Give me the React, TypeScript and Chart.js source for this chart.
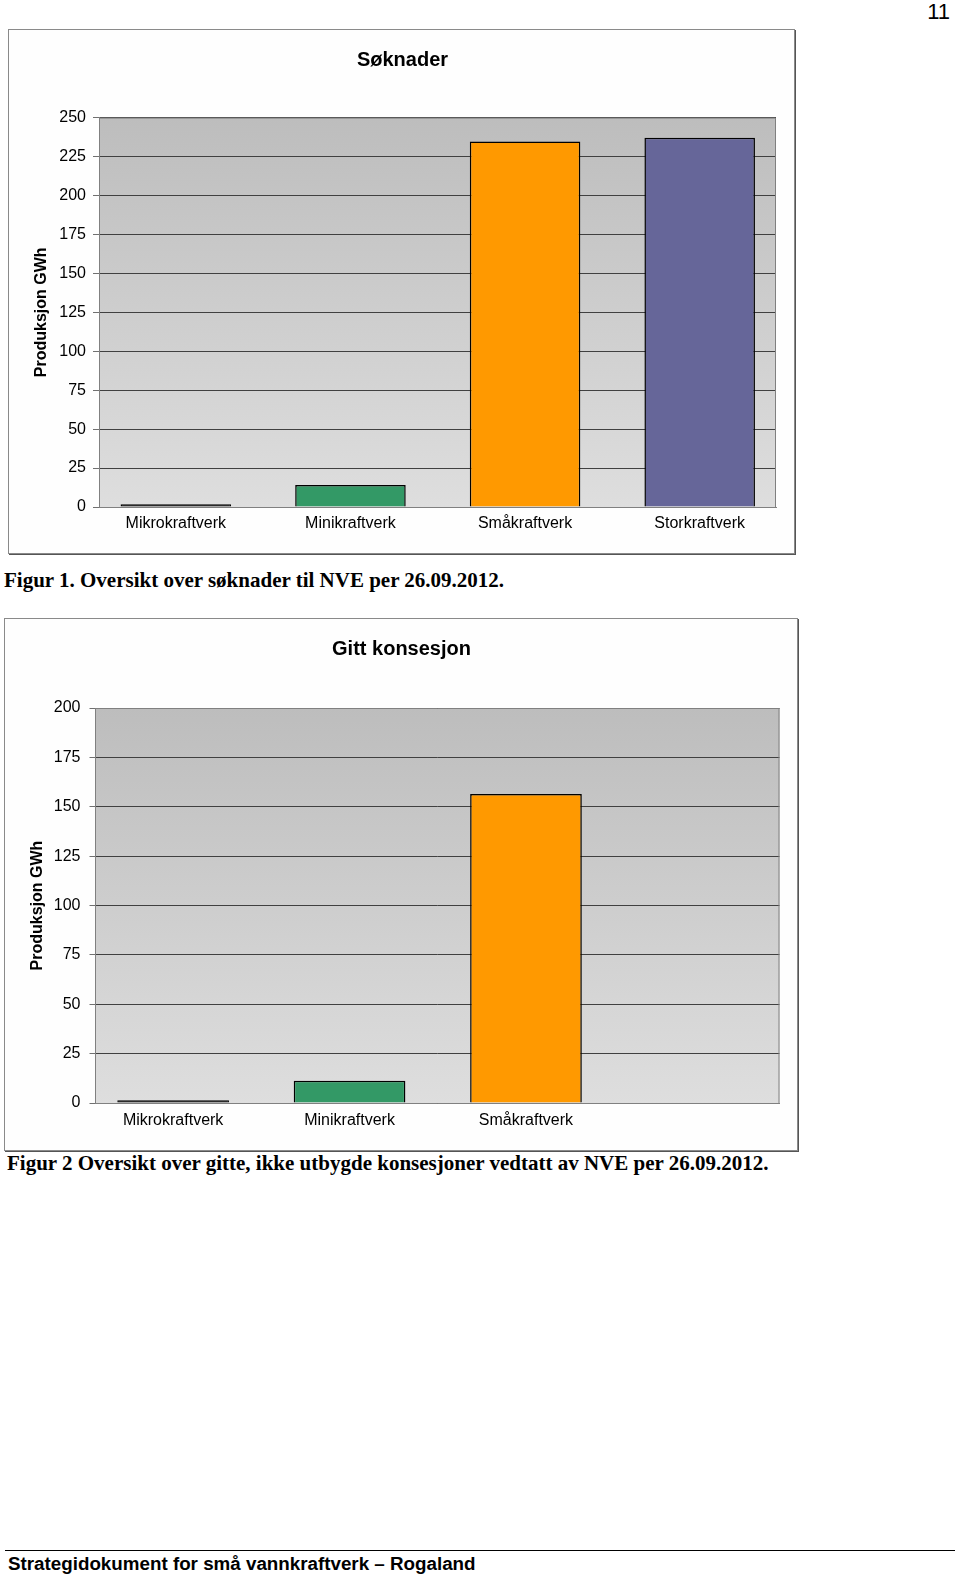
import React, { useEffect, useRef } from "react";
import { Chart, registerables } from "chart.js";
Chart.register(...registerables);

// ---------- data ----------
const Y_TITLE = "Produksjon GWh";
const Y_STEP = 25;

const TITLE_1 = "Søknader";
const CATEGORIES_1 = ["Mikrokraftverk", "Minikraftverk", "Småkraftverk", "Storkraftverk"];
const VALUES_1 = [1.8, 14.1, 234.6, 237];
const COLORS_1 = ["#000000", "#339966", "#ff9900", "#666699"];
const Y_MAX_1 = 250;

const TITLE_2 = "Gitt konsesjon";
const CATEGORIES_2 = ["Mikrokraftverk", "Minikraftverk", "Småkraftverk", ""];
const VALUES_2 = [1.4, 11.3, 156.5, null];
const COLORS_2 = ["#000000", "#339966", "#ff9900", "#666699"];
const Y_MAX_2 = 200;

// category axis extent (in category units), as in the source chart
const X_START = -0.44;
const X_RANGE = 3.877;

const CAPTION_1 = "Figur 1. Oversikt over søknader til NVE per 26.09.2012.";
const CAPTION_2 = "Figur 2 Oversikt over gitte, ikke utbygde konsesjoner vedtatt av NVE per 26.09.2012.";
const FOOTER = "Strategidokument for små vannkraftverk – Rogaland";
const PAGE_NO = "11";

const SANS = "'Liberation Sans', Arial, sans-serif";
const SERIF = "'Liberation Serif', 'Times New Roman', serif";

const plotBg = {
  id: "plotBg",
  beforeDraw(chart: any) {
    const { ctx, chartArea: a } = chart;
    const g = ctx.createLinearGradient(0, a.top, 0, a.bottom);
    g.addColorStop(0, "#bdbdbd");
    g.addColorStop(1, "#dedede");
    ctx.save();
    ctx.fillStyle = g;
    ctx.fillRect(a.left, a.top, a.right - a.left, a.bottom - a.top);
    ctx.restore();
  },
  afterDatasetsDraw(chart: any) {
    const { ctx, chartArea: a } = chart;
    ctx.save();
    ctx.strokeStyle = "#808080";
    ctx.lineWidth = 1;
    ctx.beginPath();
    ctx.moveTo(a.left, a.top + 0.5);
    ctx.lineTo(a.right - 0.5, a.top + 0.5);
    ctx.lineTo(a.right - 0.5, a.bottom);
    ctx.stroke();
    ctx.restore();
  },
};

type Props = {
  title: string;
  titleX: number;
  titleY: number;
  labels: string[];
  values: (number | null)[];
  colors: string[];
  yMax: number;
  left: number;
  top: number;
  width: number;
  height: number;
  yAxisWidth: number;
  padRight: number;
  plotTop: number;
  xAxisHeight: number;
  yTickPad: number;
  xTickPad: number;
};

function BarChart(p: Props) {
  const ref = useRef<HTMLCanvasElement | null>(null);
  useEffect(() => {
    if (!ref.current) return;
    const titlePlugin = {
      id: "chartTitle",
      afterDraw(chart: any) {
        const ctx = chart.ctx;
        ctx.save();
        ctx.fillStyle = "#000";
        ctx.font = `bold 20px ${SANS}`;
        ctx.textAlign = "center";
        ctx.textBaseline = "middle";
        ctx.fillText(p.title, p.titleX, p.titleY);
        ctx.restore();
      },
    };
    const chart = new Chart(ref.current, {
      type: "bar",
      data: {
        labels: p.labels,
        datasets: [
          {
            data: p.values,
            backgroundColor: p.colors,
            borderColor: "#000000",
            borderWidth: 1.5,
            barPercentage: 0.633,
            categoryPercentage: 1,
          } as any,
        ],
      },
      options: {
        responsive: false,
        animation: false,
        devicePixelRatio: 1,
        layout: { padding: { left: 0, right: p.padRight, top: p.plotTop, bottom: 0 } },
        plugins: {
          legend: { display: false },
          tooltip: { enabled: false },
          title: { display: false },
        },
        scales: {
          x: {
            grid: { display: false, drawTicks: false },
            border: { display: true, color: "#808080", width: 1 },
            ticks: {
              color: "#000",
              font: { family: SANS, size: 16 },
              padding: p.xTickPad,
              maxRotation: 0,
              autoSkip: false,
            },
            afterBuildTicks: (s: any) => {
              s._startValue = X_START;
              s._valueRange = X_RANGE;
            },
            afterFit: (s: any) => {
              s.height = p.xAxisHeight;
            },
          },
          y: {
            min: 0,
            max: p.yMax,
            ticks: {
              stepSize: Y_STEP,
              color: "#000",
              font: { family: SANS, size: 16 },
              padding: p.yTickPad,
            },
            grid: { color: "#404040", lineWidth: 1, tickLength: 6, tickColor: "#707070" },
            border: { display: true, color: "#808080", width: 1 },
            title: {
              display: true,
              text: Y_TITLE,
              color: "#000",
              font: { family: SANS, size: 16, weight: "bold" },
              padding: { top: 24, bottom: 0 },
            },
            afterFit: (s: any) => {
              s.width = p.yAxisWidth;
            },
          },
        },
      } as any,
      plugins: [plotBg, titlePlugin],
    });
    return () => chart.destroy();
  }, []);
  return (
    <>
      <div
        style={{
          position: "absolute",
          left: p.left,
          top: p.top,
          width: p.width,
          height: p.height,
          boxSizing: "border-box",
          border: "1px solid #8a8a8a",
          boxShadow: "1px 1px 0 #555",
          background: "#fefefe",
        }}
      />
      <canvas
        ref={ref}
        width={p.width}
        height={p.height}
        style={{ position: "absolute", left: p.left, top: p.top, width: p.width, height: p.height }}
      />
    </>
  );
}

export default function App() {
  return (
    <div
      style={{
        position: "absolute",
        left: 0,
        top: 0,
        width: 960,
        height: 1576,
        background: "#ffffff",
        overflow: "hidden",
      }}
    >
      <div
        style={{
          position: "absolute",
          right: 10,
          top: 1,
          fontFamily: SANS,
          fontSize: 22,
          lineHeight: "22px",
          color: "#000",
        }}
      >
        {PAGE_NO}
      </div>

      <BarChart
        title={TITLE_1}
        titleX={394.5}
        titleY={31}
        labels={CATEGORIES_1}
        values={VALUES_1}
        colors={COLORS_1}
        yMax={Y_MAX_1}
        left={8}
        top={29}
        width={787}
        height={525}
        yAxisWidth={91}
        padRight={19}
        plotTop={88.6}
        xAxisHeight={47}
        yTickPad={7}
        xTickPad={7}
      />

      <div
        style={{
          position: "absolute",
          left: 4,
          top: 568,
          fontFamily: SERIF,
          fontWeight: "bold",
          fontSize: 21,
          lineHeight: "24px",
          whiteSpace: "nowrap",
          color: "#000",
        }}
      >
        {CAPTION_1}
      </div>

      <BarChart
        title={TITLE_2}
        titleX={397.5}
        titleY={31}
        labels={CATEGORIES_2}
        values={VALUES_2}
        colors={COLORS_2}
        yMax={Y_MAX_2}
        left={4}
        top={618}
        width={794}
        height={533}
        yAxisWidth={91.5}
        padRight={18.5}
        plotTop={90}
        xAxisHeight={48}
        yTickPad={9}
        xTickPad={8}
      />

      <div
        style={{
          position: "absolute",
          left: 7,
          top: 1151,
          fontFamily: SERIF,
          fontWeight: "bold",
          fontSize: 21,
          lineHeight: "24px",
          whiteSpace: "nowrap",
          color: "#000",
        }}
      >
        {CAPTION_2}
      </div>

      <div
        style={{
          position: "absolute",
          left: 5,
          top: 1550,
          width: 950,
          height: 0,
          borderTop: "1.5px solid #000",
        }}
      />
      <div
        style={{
          position: "absolute",
          left: 8,
          top: 1553,
          fontFamily: SANS,
          fontWeight: "bold",
          fontSize: 18.8,
          lineHeight: "22px",
          whiteSpace: "nowrap",
          color: "#000",
        }}
      >
        {FOOTER}
      </div>
    </div>
  );
}
